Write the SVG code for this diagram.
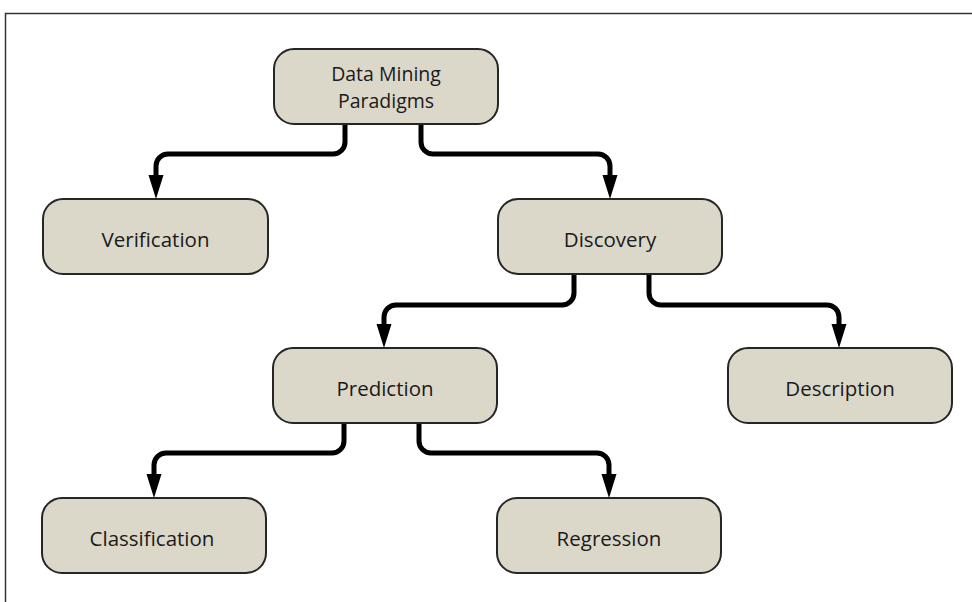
<svg xmlns="http://www.w3.org/2000/svg" width="972" height="602" viewBox="0 0 972 602">
<style>
.box{fill:#dbd8ca;stroke:#262626;stroke-width:2}
.lbl{font-family:"Open Sans","Liberation Sans",sans-serif;font-size:20.5px;fill:#1a1a1a;text-anchor:middle}
.lbl2{font-family:"Open Sans","Liberation Sans",sans-serif;font-size:19.5px;fill:#1a1a1a;text-anchor:middle}
.conn{fill:none;stroke:#000;stroke-width:5;stroke-linejoin:round}
.frame{fill:none;stroke:#333;stroke-width:1.5}
</style>
<defs>
<marker id="ah" markerUnits="userSpaceOnUse" viewBox="0 -8 24 16" refX="0" refY="0" markerWidth="24" markerHeight="16" orient="auto">
<path d="M0,-7.5 L24,0 L0,7.5 z" fill="#000"/>
</marker>
</defs>
<rect width="972" height="602" fill="#fff"/>
<path class="frame" d="M5.5 602 V13.5 H972"/>
<g id="connectors">
<path class="conn" marker-end="url(#ah)" d="M345 123 V142 A12 12 0 0 1 333 154 H168 A12 12 0 0 0 156 166 V175"/>
<path class="conn" marker-end="url(#ah)" d="M421 123 V142 A12 12 0 0 0 433 154 H598 A12 12 0 0 1 610 166 V175"/>
<path class="conn" marker-end="url(#ah)" d="M574 274 V293 A12 12 0 0 1 562 305 H396 A12 12 0 0 0 384 317 V324"/>
<path class="conn" marker-end="url(#ah)" d="M649 274 V293 A12 12 0 0 0 661 305 H827 A12 12 0 0 1 839 317 V324"/>
<path class="conn" marker-end="url(#ah)" d="M344 423 V441 A12 12 0 0 1 332 453 H166 A12 12 0 0 0 154 465 V474"/>
<path class="conn" marker-end="url(#ah)" d="M419 423 V441 A12 12 0 0 0 431 453 H597 A12 12 0 0 1 609 465 V474"/>
</g>
<g id="dm"><rect class="box" x="274" y="49" width="224" height="75" rx="20"/><text class="lbl2" x="386" y="81">Data Mining</text><text class="lbl2" x="386" y="108">Paradigms</text></g>
<g id="verification"><rect class="box" x="43" y="199" width="225" height="75" rx="20"/><text class="lbl" x="155.5" y="247">Verification</text></g>
<g id="discovery"><rect class="box" x="498" y="199" width="224" height="75" rx="20"/><text class="lbl" x="610" y="247">Discovery</text></g>
<g id="prediction"><rect class="box" x="273" y="348" width="224" height="75" rx="20"/><text class="lbl" x="385" y="396">Prediction</text></g>
<g id="description"><rect class="box" x="728" y="348" width="224" height="75" rx="20"/><text class="lbl" x="840" y="396">Description</text></g>
<g id="classification"><rect class="box" x="42" y="498" width="224" height="75" rx="20"/><text class="lbl" x="152" y="546">Classification</text></g>
<g id="regression"><rect class="box" x="497" y="498" width="224" height="75" rx="20"/><text class="lbl" x="609" y="546">Regression</text></g>
</svg>
